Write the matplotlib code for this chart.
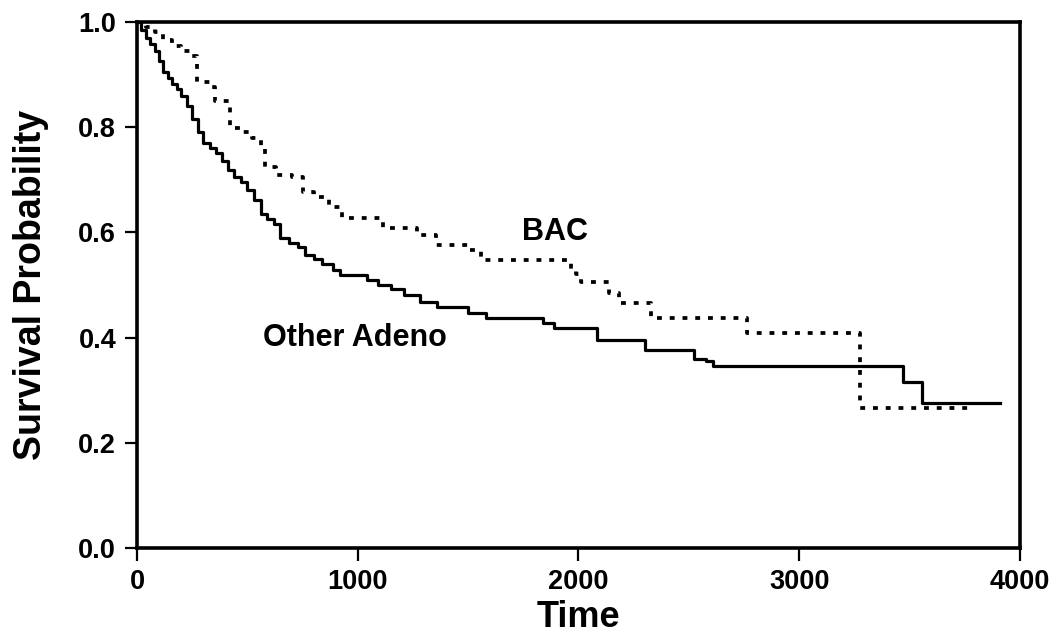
import numpy as np
from matplotlib import pyplot as plt

plt.rcParams['font.family'] = ['Liberation Sans', 'DejaVu Sans']
plt.rcParams['font.weight'] = 'bold'

# Kaplan-Meier curves (time, survival)
adeno_t = [0, 20, 40, 60, 80, 100, 120, 140, 160, 180, 200, 225, 250, 275, 300,
           330, 360, 385, 410, 440, 470, 500, 530, 560, 590, 620, 650, 690, 730,
           760, 800, 840, 890, 920, 1040, 1090, 1150, 1210, 1280, 1360, 1500,
           1580, 1840, 1890, 2085, 2300, 2525, 2580, 2610, 3470, 3555, 3910]
adeno_s = [1.0, 0.985, 0.97, 0.958, 0.945, 0.925, 0.905, 0.893, 0.882, 0.872, 0.86,
           0.84, 0.815, 0.79, 0.77, 0.76, 0.75, 0.735, 0.718, 0.706, 0.695, 0.68,
           0.662, 0.635, 0.625, 0.615, 0.59, 0.58, 0.572, 0.557, 0.55, 0.54,
           0.529, 0.519, 0.51, 0.50, 0.492, 0.481, 0.468, 0.459, 0.447, 0.437,
           0.428, 0.418, 0.395, 0.376, 0.36, 0.355, 0.346, 0.315, 0.276, 0.276]

bac_t = [0, 40, 80, 120, 160, 200, 250, 270, 330, 355, 420, 470, 520, 560, 580,
         630, 700, 754, 800, 870, 927, 1116, 1270, 1355, 1500, 1560, 1965, 1990,
         2010, 2140, 2185, 2330, 2762, 3276, 3790]
bac_s = [1.0, 0.99, 0.98, 0.965, 0.955, 0.945, 0.935, 0.886, 0.877, 0.849, 0.798,
         0.79, 0.78, 0.765, 0.725, 0.709, 0.705, 0.677, 0.668, 0.649, 0.627,
         0.608, 0.595, 0.576, 0.567, 0.548, 0.53, 0.52, 0.506, 0.485, 0.465,
         0.437, 0.408, 0.266, 0.266]

fig = plt.figure(figsize=(10.58, 6.37), dpi=100)
ax = fig.add_axes([0.1295, 0.1397, 0.8345, 0.8258])

ax.step(adeno_t, adeno_s, where='post', color='black', lw=2.3)
ax.step(bac_t, bac_s, where='post', color='black', lw=2.7,
        linestyle=(0, (1.3, 2.1)))

ax.text(1894, 0.60, 'BAC', fontsize=22, ha='center', va='center')
ax.text(988, 0.40, 'Other Adeno', fontsize=22, ha='center', va='center')

ax.set_xlim(0, 4000)
ax.set_ylim(0, 1.0)
ax.set_xticks([0, 1000, 2000, 3000, 4000])
ax.set_yticks([0.0, 0.2, 0.4, 0.6, 0.8, 1.0])
ax.set_yticklabels(['0.0', '0.2', '0.4', '0.6', '0.8', '1.0'])
ax.tick_params(direction='out', length=9, width=1.6, labelsize=19.5, pad=6)
for s in ax.spines.values():
    s.set_linewidth(2.6)

ax.set_xlabel('Time', fontsize=26, fontweight='bold', labelpad=4)
ax.set_ylabel('Survival Probability', fontsize=27, fontweight='bold', labelpad=21)

fig.savefig('out.png', dpi=100)
